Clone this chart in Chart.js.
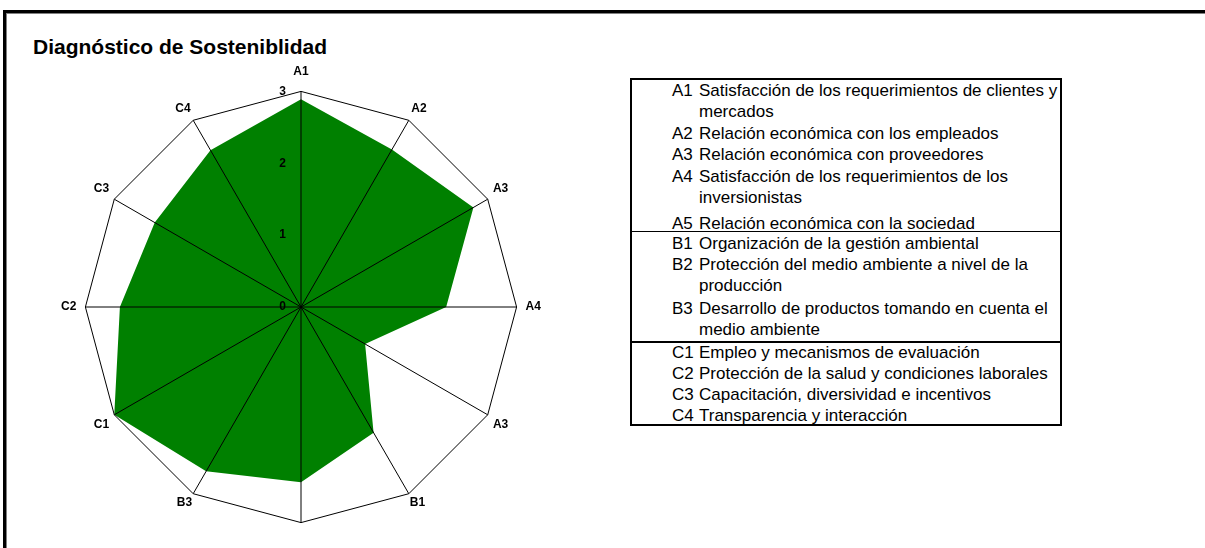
<!DOCTYPE html>
<html>
<head>
<meta charset="utf-8">
<script src="https://cdn.jsdelivr.net/npm/chart.js@4.4.1/dist/chart.umd.min.js"></script>
<style>
  html, body { margin: 0; padding: 0; background: #fff; overflow: hidden; }
  body { width: 1205px; height: 548px; position: relative; font-family: Arial, "Liberation Sans", sans-serif; color: #000; }
  #frame { position: absolute; left: 3px; top: 10px; width: 1220px; height: 560px;
           border-top: 3px solid #000; border-left: 3px solid #000; box-shadow: inset 1px 1px 0 #808080; }
  #title { position: absolute; left: 33px; top: 36px; font-size: 21px; line-height: 21px; font-weight: bold; white-space: nowrap; }
  #chartBox { position: absolute; left: 58px; top: 64px; }
  #legendBox { position: absolute; left: 630px; top: 78px; width: 428px; height: 344px; border: 2px solid #000; }
  .ln { position: absolute; font-size: 17px; line-height: 17px; white-space: nowrap; }
  .cd { left: 40px; }
  .tx { left: 67px; }
  .sep { position: absolute; left: 0; width: 100%; background: #000; }
</style>
</head>
<body>
<div id="frame"></div>
<div id="title">Diagnóstico de Sosteniblidad</div>
<div id="chartBox"><canvas id="radarChart" width="486" height="486"></canvas></div>
<div id="legendBox">
  <div class="ln cd" style="top:2px">A1</div><div class="ln tx" style="top:2px">Satisfacción de los requerimientos de clientes y</div>
  <div class="ln tx" style="top:23px">mercados</div>
  <div class="ln cd" style="top:45px">A2</div><div class="ln tx" style="top:45px">Relación económica con los empleados</div>
  <div class="ln cd" style="top:66px">A3</div><div class="ln tx" style="top:66px">Relación económica con proveedores</div>
  <div class="ln cd" style="top:88px">A4</div><div class="ln tx" style="top:88px">Satisfacción de los requerimientos de los</div>
  <div class="ln tx" style="top:109px">inversionistas</div>
  <div class="ln cd" style="top:135px">A5</div><div class="ln tx" style="top:135px">Relación económica con la sociedad</div>
  <div class="sep" style="top:151px;height:1px"></div>
  <div class="ln cd" style="top:155px">B1</div><div class="ln tx" style="top:155px">Organización de la gestión ambiental</div>
  <div class="ln cd" style="top:176px">B2</div><div class="ln tx" style="top:176px">Protección del medio ambiente a nivel de la</div>
  <div class="ln tx" style="top:197px">producción</div>
  <div class="ln cd" style="top:220px">B3</div><div class="ln tx" style="top:220px">Desarrollo de productos tomando en cuenta el</div>
  <div class="ln tx" style="top:241px">medio ambiente</div>
  <div class="sep" style="top:261px;height:2px"></div>
  <div class="ln cd" style="top:264px">C1</div><div class="ln tx" style="top:264px">Empleo y mecanismos de evaluación</div>
  <div class="ln cd" style="top:285px">C2</div><div class="ln tx" style="top:285px">Protección de la salud y condiciones laborales</div>
  <div class="ln cd" style="top:306px">C3</div><div class="ln tx" style="top:306px">Capacitación, diversividad e incentivos</div>
  <div class="ln cd" style="top:327px">C4</div><div class="ln tx" style="top:327px">Transparencia y interacción</div>
</div>
<script>
// Axis labels as printed around the web (the bottom spoke carries no label)
const axisLabels = ['A1', 'A2', 'A3', 'A4', 'A3', 'B1', '', 'B3', 'C1', 'C2', 'C3', 'C4'];
// Score per criterion (scale 0-3)
const scores = [2.89, 2.53, 2.77, 2.02, 1.03, 2.02, 2.44, 2.64, 3.0, 2.52, 2.35, 2.52];
const tickValues = [0, 1, 2, 3];

// distance of each axis label from the outer ring (Excel puts the diagonal ones close in)
const labelPadding = [5, -3, -2, 1, -2, -6, 5, -6, -2, 1, -2, -3];

const labelFont = { family: "Arial, 'Liberation Sans', sans-serif", size: 12, weight: 'bold' };

const ctx = document.getElementById('radarChart').getContext('2d');
new Chart(ctx, {
  type: 'radar',
  data: {
    labels: axisLabels,
    datasets: [{
      data: scores,
      backgroundColor: 'rgb(0, 128, 0)',
      borderColor: 'rgb(0, 128, 0)',
      borderWidth: 0,
      pointRadius: 0,
      fill: true
    }]
  },
  options: {
    responsive: false,
    animation: false,
    devicePixelRatio: 1,
    plugins: {
      legend: { display: false },
      tooltip: { enabled: false }
    },
    scales: {
      r: {
        min: -0.000001,  // just below 0 so the "0" tick label is still drawn
        max: 3,
        afterBuildTicks: scale => { scale.ticks = tickValues.map(v => ({ value: v })); },
        ticks: {
          z: 1,
          color: '#000',
          font: labelFont,
          showLabelBackdrop: false,
          callback: v => Math.round(v) + ' '.repeat(11)  // push the number left of the spoke
        },
        grid: {
          z: 1,  // spokes and outer ring drawn over the green area
          color: c => (c.tick && c.tick.value === 3 ? '#000' : 'rgba(0,0,0,0)'),
          lineWidth: 1
        },
        angleLines: { color: '#000', lineWidth: 1 },
        pointLabels: {
          color: '#000',
          font: labelFont,
          padding: c => labelPadding[c.index]
        }
      }
    }
  }
});
</script>
</body>
</html>
